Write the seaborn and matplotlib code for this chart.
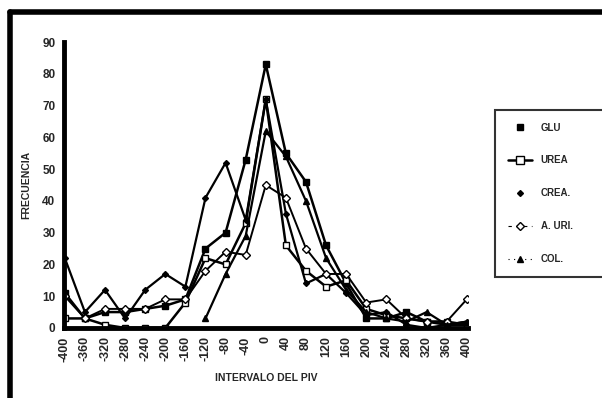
import matplotlib.pyplot as plt
import numpy as np
import pandas as pd
import seaborn as sns
from matplotlib.lines import Line2D

sns.set_style("white")
plt.rcParams["font.family"] = ["Liberation Sans", "DejaVu Sans"]

intervalo = [-400, -360, -320, -280, -240, -200, -160, -120, -80, -40, 0,
             40, 80, 120, 160, 200, 240, 280, 320, 360, 400]
glu = [11, 3, 5, 5, 6, 7, 9, 25, 30, 53, 83, 55, 46, 26, 14, 3, 3, 5, 2, 1, 1]
urea = [3, 3, 1, 0, 0, 0, 8, 22, 20, 33, 72, 26, 18, 13, 15, 6, 4, 3, 2, 2, 1]
crea = [22, 5, 12, 3, 12, 17, 13, 41, 52, 34, 72, 36, 14, 17, 11, 4, 5, 1, 0, 1, 2]
a_uri = [10, 3, 6, 6, 6, 9, 9, 18, 24, 23, 45, 41, 25, 17, 17, 8, 9, 3, 2, 2, 9]
col = [np.nan, np.nan, np.nan, np.nan, np.nan, np.nan, np.nan, 3, 17, 29, 62,
       54, 40, 22, 12, 5, 3, 2, 5, 1, 2]

series = {
    "GLU": (glu, dict(marker="s", markersize=5, markerfacecolor="black", lw=1.8, linestyle="-")),
    "UREA": (urea, dict(marker="s", markersize=5, markerfacecolor="white", lw=1.8, linestyle="-")),
    "CREA.": (crea, dict(marker="D", markersize=3, markerfacecolor="black", lw=1.6, linestyle="-")),
    "A. URI.": (a_uri, dict(marker="D", markersize=4, markerfacecolor="white", lw=1.4, linestyle="-")),
    "COL.": (col, dict(marker="^", markersize=4, markerfacecolor="black", lw=1.6, linestyle="-")),
}

fig = plt.figure(figsize=(6.02, 3.98), dpi=100)
ax = fig.add_axes([0.106, 0.176, 0.671, 0.718])

for name, (vals, style) in series.items():
    df = pd.DataFrame({"x": intervalo, "y": vals})
    sns.lineplot(data=df, x="x", y="y", ax=ax, color="black",
                 markeredgecolor="black", markeredgewidth=1, **style)

ax.set_xlim(-402, 402)
ax.set_ylim(0, 90)
ax.set_xticks(intervalo)
ax.set_xticklabels([str(v) for v in intervalo], rotation=90, fontsize=9, fontweight="bold")
ax.set_yticks(range(0, 91, 10))
ax.set_yticklabels([str(v) for v in range(0, 91, 10)], fontsize=8.5, fontweight="bold")
ax.tick_params(length=0, pad=6)
for side in ["top", "right"]:
    ax.spines[side].set_visible(False)
for side in ["left", "bottom"]:
    ax.spines[side].set_linewidth(3.5)
    ax.spines[side].set_color("black")
ax.set_xlabel("INTERVALO DEL PIV", fontsize=7.5, fontweight="bold", labelpad=8)
ax.set_ylabel("FRECUENCIA", fontsize=7.5, fontweight="bold", labelpad=8)

# leyenda
handles = [
    Line2D([], [], color="black", marker="s", markersize=5, lw=0),
    Line2D([], [], color="black", marker="s", markersize=6, markerfacecolor="white", lw=1.8),
    Line2D([], [], color="black", marker="D", markersize=3, lw=0),
    Line2D([], [], color="black", marker="D", markersize=4, markerfacecolor="white", lw=0.8, linestyle=(0, (3, 4))),
    Line2D([], [], color="black", marker="^", markersize=4, lw=0.8, linestyle=(0, (1, 4))),
]
leg = fig.legend(handles, list(series.keys()), loc="upper left",
                 bbox_to_anchor=(0.814, 0.736, 0.25, 0.0), mode="expand",
                 frameon=True, fancybox=False,
                 prop={"size": 7, "weight": "bold"}, labelspacing=2.35,
                 handlelength=2.5, borderpad=1.3, handletextpad=0.9)
leg.get_frame().set_edgecolor("black")
leg.get_frame().set_linewidth(1.5)

# marco de la página escaneada
fig.add_artist(Line2D([0.017, 1.0], [0.97, 0.97], color="black", lw=4, transform=fig.transFigure))
fig.add_artist(Line2D([0.017, 0.017], [0.0, 0.97], color="black", lw=4, transform=fig.transFigure))

fig.savefig("out.png", dpi=100)
